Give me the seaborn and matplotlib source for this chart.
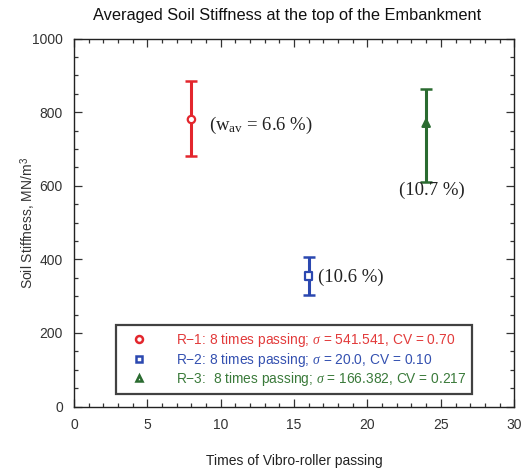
import matplotlib
matplotlib.use("Agg")
import matplotlib.pyplot as plt
from matplotlib.ticker import MultipleLocator
from matplotlib.lines import Line2D
import seaborn as sns
import pandas as pd

# ---- data ----
series = ["R-1", "R-2", "R-3"]
passes = [8, 16, 24]
stiffness = [780, 355, 770]
err_low = [100, 52, 160]
err_high = [104, 52, 92]
moisture_labels = ["(w$_\\mathregular{av}$ = 6.6 %)", "(10.6 %)", "(10.7 %)"]
legend_labels = [
    "R\u22121: 8 times passing; $\\sigma$ = 541.541, CV = 0.70",
    "R\u22122: 8 times passing; $\\sigma$ = 20.0, CV = 0.10",
    "R\u22123:  8 times passing; $\\sigma$ = 166.382, CV = 0.217",
]
colors = ["#e3262d", "#2b48b0", "#2a6b30"]
text_colors = ["#e23a3a", "#3350b0", "#3a7a3a"]
markers = ["o", "s", "^"]

df = pd.DataFrame({"series": series, "passes": passes, "stiffness": stiffness})

sns.set_style("ticks")
plt.rcParams["font.family"] = ["Liberation Sans", "DejaVu Sans"]
plt.rcParams["mathtext.fontset"] = "custom"
plt.rcParams["mathtext.it"] = "Liberation Serif:italic"
plt.rcParams["mathtext.rm"] = "Liberation Serif"

fig = plt.figure(figsize=(5.29, 4.70), dpi=100)
ax = fig.add_axes([0.140, 0.135, 0.832, 0.783])

for i in range(len(series)):
    ax.errorbar(passes[i], stiffness[i], yerr=[[err_low[i]], [err_high[i]]],
                fmt="none", ecolor=colors[i], elinewidth=2.2, capsize=4,
                capthick=1.8, zorder=2)

sns.scatterplot(data=df, x="passes", y="stiffness", hue="series", style="series",
                palette=dict(zip(series, colors)), markers=dict(zip(series, markers)),
                s=28, facecolor="white", linewidth=1.6, ax=ax, legend=False, zorder=3)
coll = ax.collections[-1]
coll.set_edgecolors(colors)
coll.set_facecolors(["white", "white", colors[2]])

# moisture annotations
serif = dict(family="Liberation Serif", fontsize=13.5, va="center", color="#222222")
ax.text(9.2, 765, moisture_labels[0], ha="left", **serif)
ax.text(16.6, 350, moisture_labels[1], ha="left", **serif)
ax.text(24.4, 588, moisture_labels[2], ha="center", **serif)

ax.set_xlim(0, 30)
ax.set_ylim(0, 1000)
ax.xaxis.set_major_locator(MultipleLocator(5))
ax.xaxis.set_minor_locator(MultipleLocator(1))
ax.yaxis.set_major_locator(MultipleLocator(200))
ax.yaxis.set_minor_locator(MultipleLocator(50))
ax.tick_params(which="both", direction="in", top=True, right=True, colors="#333333",
               labelcolor="#333333", labelsize=10, width=0.9)
ax.tick_params(which="major", length=6, pad=8)
ax.tick_params(which="minor", length=3)
for sp in ax.spines.values():
    sp.set_linewidth(1.0)
    sp.set_color("#222222")

ax.set_xlabel("Times of Vibro-roller passing", fontsize=10, color="#222222", labelpad=16)
ax.set_ylabel("Soil Stiffness, MN/m$^\\mathregular{3}$", fontsize=10, color="#333333")
ax.yaxis.set_label_coords(-0.082, 0.5)

fig.text(0.543, 0.966, "Averaged Soil Stiffness at the top of the Embankment",
         ha="center", va="center", fontsize=11.8, color="#111111")

handles = [Line2D([], [], linestyle="none", marker=markers[i], markersize=5,
                  markerfacecolor="white", markeredgecolor=colors[i], markeredgewidth=1.8)
           for i in range(3)]
leg = ax.legend(handles, legend_labels, loc="lower center", bbox_to_anchor=(0.5, 0.035),
                frameon=True, fancybox=False, fontsize=9.9, handletextpad=1.4,
                borderpad=0.4, labelspacing=0.12, handlelength=2.6, borderaxespad=0)
leg.get_frame().set_edgecolor("#111111")
leg.get_frame().set_linewidth(1.6)
for t, c in zip(leg.get_texts(), text_colors):
    t.set_color(c)

fig.savefig("out.png", dpi=100)
